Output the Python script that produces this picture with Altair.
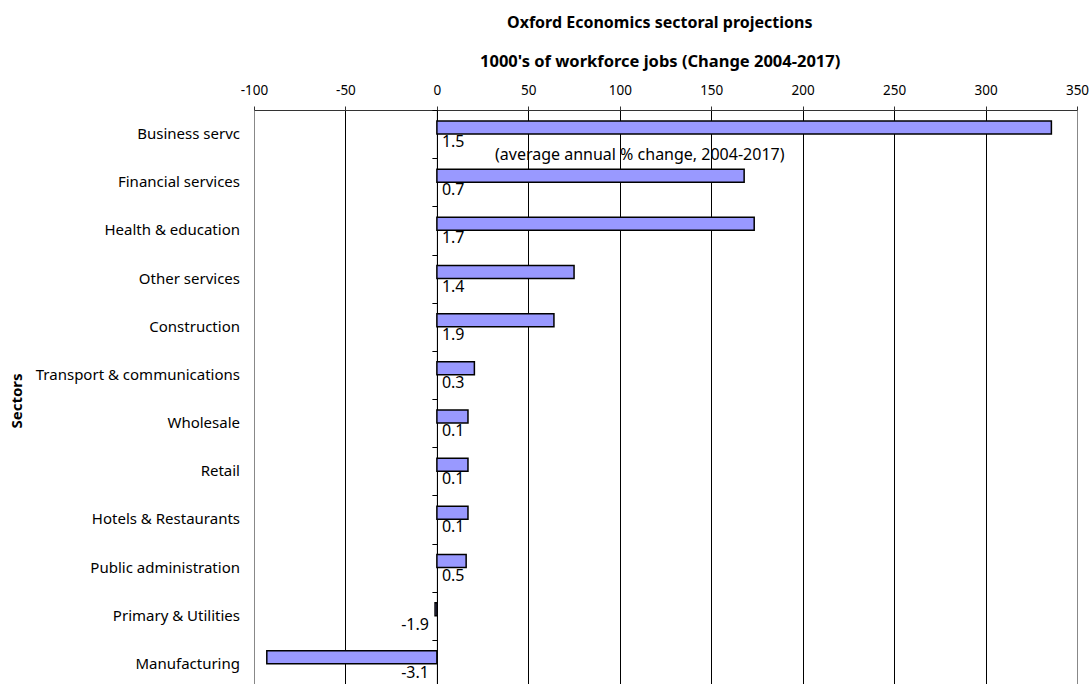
import altair as alt
import pandas as pd

sectors = ["Business servc", "Financial services", "Health & education", "Other services",
           "Construction", "Transport & communications", "Wholesale", "Retail",
           "Hotels & Restaurants", "Public administration", "Primary & Utilities", "Manufacturing"]
jobs_change = [336, 168, 173.5, 75, 64, 20.5, 17, 17, 17, 16, -1, -93]
pct_change = [1.5, 0.7, 1.7, 1.4, 1.9, 0.3, 0.1, 0.1, 0.1, 0.5, -1.9, -3.1]
x_ticks = [-100, -50, 0, 50, 100, 150, 200, 250, 300, 350]

df = pd.DataFrame({"sector": sectors, "jobs": jobs_change, "pct": pct_change})
df["label"] = [f"{v:.1f}" for v in pct_change]

FONT = "Noto Sans"
W, H = 823, 578
ysc = alt.Scale(domain=sectors, paddingInner=0, paddingOuter=0)
xsc = alt.Scale(domain=[-100, 350], nice=False)

base = alt.Chart(df)

bars = base.mark_bar(height=13, yOffset=-6.6, color="#9999FF", stroke="black",
                     strokeWidth=1.5).encode(
    x=alt.X("jobs:Q", scale=xsc,
            axis=alt.Axis(orient="top", values=x_ticks, title=None, grid=True,
                          gridColor={"condition": {"test": "datum.value === -100 || datum.value === 350",
                                                   "value": "#888888"}, "value": "black"},
                          gridWidth=1, domainColor="#333333", tickColor="#333333",
                          tickSize=4, labelFontSize=13.5, labelFont=FONT, labelColor="black",
                          labelPadding=9, labelFlush=False,
                          labelExpr="'' + datum.value")),
    y=alt.Y("sector:N", scale=ysc, sort=sectors,
            axis=alt.Axis(labels=False, title=None, offset=-182.9, tickBand="extent",
                          tickSize=5, domainColor="black", tickColor="black", domainWidth=1)),
    x2=alt.datum(0),
)

pos_labels = base.transform_filter("datum.pct >= 0").mark_text(
    align="left", baseline="middle", dx=5, yOffset=8, fontSize=16, font=FONT, color="black"
).encode(x=alt.datum(0), y=alt.Y("sector:N", scale=ysc, sort=sectors), text="label:N")

neg_labels = base.transform_filter("datum.pct < 0").mark_text(
    align="right", baseline="middle", dx=-8, yOffset=9, fontSize=16, font=FONT, color="black"
).encode(x=alt.datum(0), y=alt.Y("sector:N", scale=ysc, sort=sectors), text="label:N")

cat_labels = base.mark_text(align="right", baseline="middle", fontSize=15, font=FONT,
                            color="black").encode(
    x=alt.value(-14), y=alt.Y("sector:N", scale=ysc, sort=sectors), text="sector:N")

annot = alt.Chart(pd.DataFrame({"t": ["(average annual % change, 2004-2017)"]})).mark_text(
    align="left", baseline="middle", fontSize=16, font=FONT, color="black"
).encode(x=alt.value(241), y=alt.value(45), text="t:N")

title = alt.Chart(pd.DataFrame({"t": ["Oxford Economics sectoral projections"]})).mark_text(
    align="left", baseline="middle", fontSize=16, font=FONT, fontWeight="bold", color="black"
).encode(x=alt.value(253), y=alt.value(-87), text="t:N")

xtitle = alt.Chart(pd.DataFrame({"t": ["1000's of workforce jobs (Change 2004-2017)"]})).mark_text(
    align="left", baseline="middle", fontSize=16.5, font=FONT, fontWeight="bold", color="black"
).encode(x=alt.value(226), y=alt.value(-48), text="t:N")

ytitle = alt.Chart(pd.DataFrame({"t": ["Sectors"]})).mark_text(
    align="center", baseline="middle", fontSize=15, font=FONT, fontWeight="bold", color="black",
    angle=270
).encode(x=alt.value(-237), y=alt.value(291), text="t:N")

chart = alt.layer(bars, pos_labels, neg_labels, cat_labels, annot, title, xtitle, ytitle).properties(
    width=W, height=H, autosize=alt.AutoSizeParams(type="none"),
    padding={"left": 254, "top": 110, "right": 13, "bottom": 0},
    background="white"
).configure_view(stroke=None)

chart.save("out.html", embed_options={"renderer": "svg", "actions": False})
